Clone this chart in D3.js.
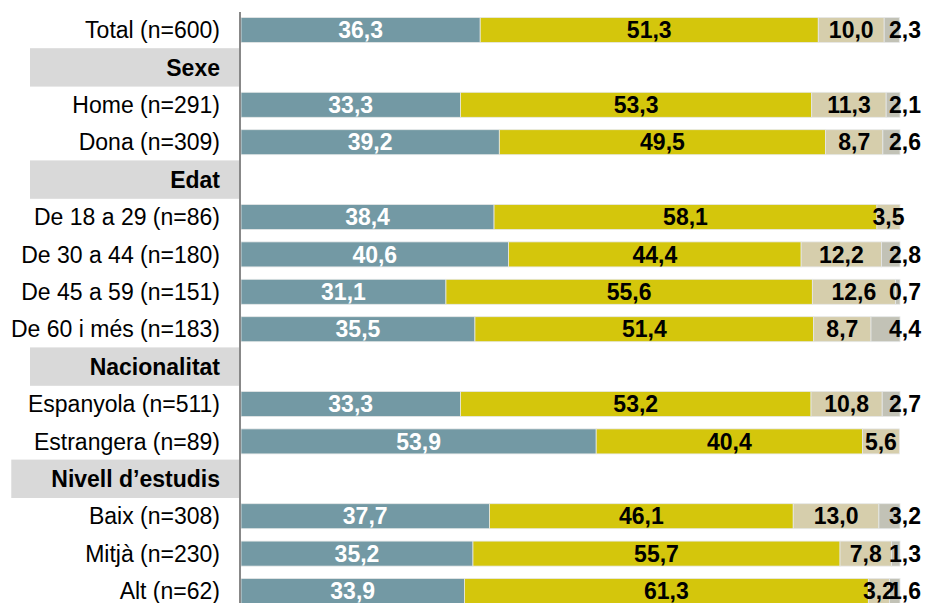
<!DOCTYPE html>
<html>
<head>
<meta charset="utf-8">
<script src="https://cdn.jsdelivr.net/npm/d3@7"></script>
<style>
  html, body { margin: 0; padding: 0; background: #fff; }
  svg { display: block; font-family: "Liberation Sans", Arial, sans-serif; }
</style>
</head>
<body>
<svg id="chart" width="926" height="603"></svg>
<script>
const categories = ["Total (n=600)", "Sexe", "Home (n=291)", "Dona (n=309)", "Edat",
  "De 18 a 29 (n=86)", "De 30 a 44 (n=180)", "De 45 a 59 (n=151)", "De 60 i més (n=183)",
  "Nacionalitat", "Espanyola (n=511)", "Estrangera (n=89)", "Nivell d’estudis",
  "Baix (n=308)", "Mitjà (n=230)", "Alt (n=62)"];
const headers = ["Sexe", "Edat", "Nacionalitat", "Nivell d’estudis"];
const series1 = [36.3, null, 33.3, 39.2, null, 38.4, 40.6, 31.1, 35.5, null, 33.3, 53.9, null, 37.7, 35.2, 33.9];
const series2 = [51.3, null, 53.3, 49.5, null, 58.1, 44.4, 55.6, 51.4, null, 53.2, 40.4, null, 46.1, 55.7, 61.3];
const series3 = [10.0, null, 11.3, 8.7, null, 3.5, 12.2, 12.6, 8.7, null, 10.8, 5.6, null, 13.0, 7.8, 3.2];
const series4 = [2.3, null, 2.1, 2.6, null, null, 2.8, 0.7, 4.4, null, 2.7, null, null, 3.2, 1.3, 1.6];
const seriesList = [series1, series2, series3, series4];
const colors = ["#7399A4", "#D4C60C", "#D6CEAC", "#C2C2B6"];
const labelColors = ["#ffffff", "#000000", "#000000", "#000000"];

const svg = d3.select("#chart");
const x = d3.scaleLinear().domain([0, 100]).range([241, 900]);
const y = d3.scalePoint().domain(categories).range([30, 591]);
const step = y.step();
const barH = 25;
const fs = "23px";
const fmt = v => d3.format(".1f")(v).replace(".", ",");

// header boxes
const hdr = svg.append("g");
headers.forEach(h => {
  const t = hdr.append("text")
    .attr("x", 220).attr("y", y(h)).attr("dy", "0.36em")
    .attr("text-anchor", "end")
    .style("font-size", fs).style("font-weight", "bold")
    .text(h);
  const w = t.node().getComputedTextLength();
  const left = Math.min(30, 220 - w - 40);
  hdr.insert("rect", "text")
    .attr("x", left).attr("y", y(h) - step / 2 - 0.5)
    .attr("width", 239 - left).attr("height", step + 1)
    .attr("fill", "#D9D9D9");
});

// category labels
svg.append("g").selectAll("text")
  .data(categories.filter(c => !headers.includes(c)))
  .join("text")
  .attr("x", 220).attr("y", d => y(d)).attr("dy", "0.36em")
  .attr("text-anchor", "end")
  .style("font-size", fs).attr("fill", "#000")
  .text(d => d);

// stacked bars
const segs = [];
categories.forEach((c, i) => {
  let cum = 0;
  seriesList.forEach((s, k) => {
    const v = s[i];
    if (v == null) return;
    segs.push({ c, k, v, x0: cum, x1: cum + v });
    cum += v;
  });
});

svg.append("g").selectAll("rect")
  .data(segs).join("rect")
  .attr("x", d => x(d.x0))
  .attr("y", d => y(d.c) - barH / 2)
  .attr("width", d => x(d.x1) - x(d.x0))
  .attr("height", barH)
  .attr("fill", d => colors[d.k])
  .attr("stroke", "#e6e8e8").attr("stroke-width", 0.8);

svg.append("g").selectAll("text")
  .data(segs).join("text")
  .attr("x", d => d.k === 3 ? x(100) + 5 : (x(d.x0) + x(d.x1)) / 2)
  .attr("y", d => y(d.c)).attr("dy", "0.36em")
  .attr("text-anchor", "middle")
  .style("font-size", fs).style("font-weight", "bold")
  .attr("fill", d => labelColors[d.k])
  .text(d => fmt(d.v));

// axis line
svg.append("line")
  .attr("x1", 240).attr("x2", 240)
  .attr("y1", 12).attr("y2", 603)
  .attr("stroke", "#888888").attr("stroke-width", 2);
</script>
</body>
</html>
